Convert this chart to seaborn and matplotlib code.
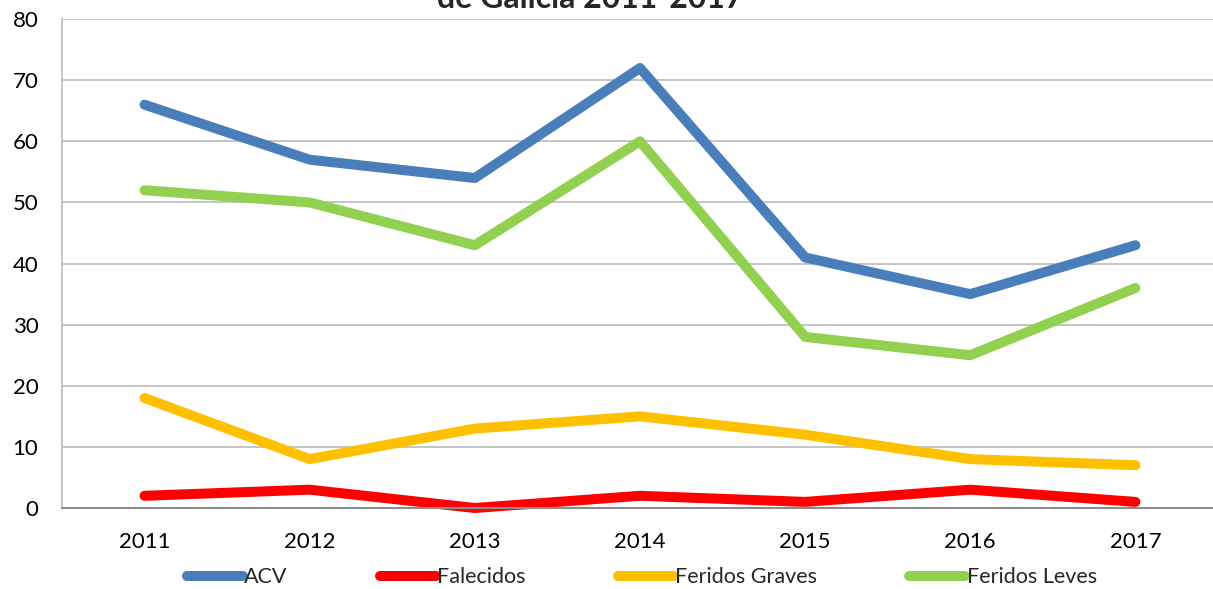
import matplotlib
matplotlib.use("Agg")
import matplotlib.pyplot as plt
import seaborn as sns
import pandas as pd

years = ["2011", "2012", "2013", "2014", "2015", "2016", "2017"]
acv = [66, 57, 54, 72, 41, 35, 43]
falecidos = [2, 3, 0, 2, 1, 3, 1]
feridos_graves = [18, 8, 13, 15, 12, 8, 7]
feridos_leves = [52, 50, 43, 60, 28, 25, 36]

series_names = ["ACV", "Falecidos", "Feridos Graves", "Feridos Leves"]
series_colors = ["#4A7EBB", "#FF0000", "#FFC000", "#92D050"]

df = pd.DataFrame({
    "Ano": years * 4,
    "Valor": acv + falecidos + feridos_graves + feridos_leves,
    "Serie": sum([[n] * len(years) for n in series_names], []),
})

sns.set_theme(style="white")
plt.rcParams["font.family"] = ["Lato", "DejaVu Sans"]

fig = plt.figure(figsize=(12.13, 5.89), dpi=100)
ax = fig.add_axes([0.0511, 0.1375, 0.953, 0.830])

lw = 7.2
sns.lineplot(data=df, x="Ano", y="Valor", hue="Serie", hue_order=series_names,
             palette=series_colors, linewidth=lw, ax=ax, sort=False,
             legend=False)
for line in ax.lines:
    line.set_solid_capstyle("round")
    line.set_solid_joinstyle("round")
    line.set_clip_on(False)

ax.set_xlim(-0.5, len(years) - 0.5)
ax.set_ylim(0, 80)
ax.set_yticks(range(0, 81, 10))
ax.set_xlabel("")
ax.set_ylabel("")
ax.grid(axis="y", color="#c0c0c0", linewidth=1.3)
ax.set_axisbelow(True)
for s in ["top", "right"]:
    ax.spines[s].set_visible(False)
ax.spines["left"].set_color("#c0c0c0")
ax.spines["left"].set_linewidth(1.3)
ax.spines["bottom"].set_color("#8c8c8c")
ax.spines["bottom"].set_linewidth(1.5)
ax.tick_params(axis="both", length=0, labelsize=16, colors="black")
ax.tick_params(axis="x", pad=17)
ax.tick_params(axis="y", pad=17)

handles = [plt.Line2D([0], [0], color=c, linewidth=lw, solid_capstyle="round")
           for c in series_colors]
fig.legend(handles, series_names, loc="center", bbox_to_anchor=(0.529, 0.02),
           ncol=4, frameon=False, fontsize=15.5, handlelength=2.6,
           handletextpad=0.05, columnspacing=4.3)

fig.text(0.487, 1.0 - 8 / 589, "de Galicia 2011-2017", ha="center",
         va="baseline", fontsize=23, fontweight="bold")

fig.savefig("out.png", dpi=100)
